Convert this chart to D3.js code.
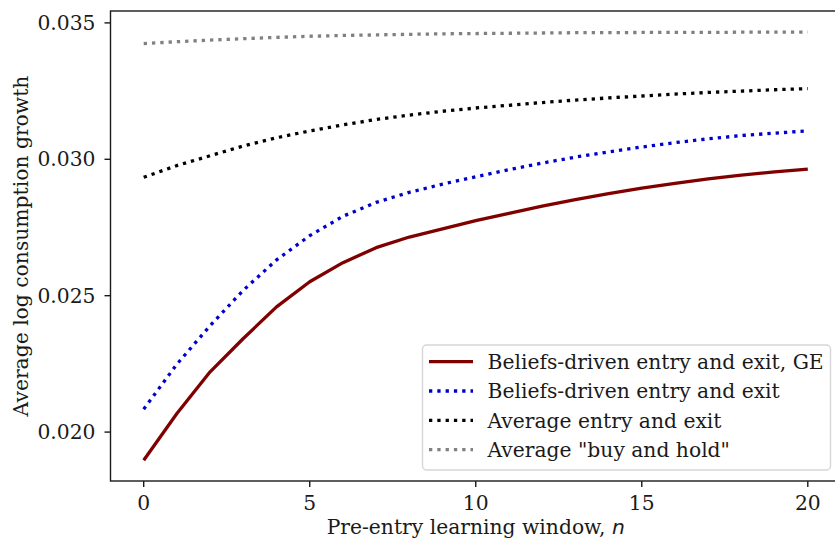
<!DOCTYPE html>
<html>
<head>
<meta charset="utf-8">
<script src="https://cdn.jsdelivr.net/npm/d3@7"></script>
<style>
  body { margin: 0; background: #fff; }
  svg text { font-family: "DejaVu Serif", serif; fill: #1a1a1a; }
</style>
</head>
<body>
<svg id="chart" width="835" height="542"></svg>
<script>
// pre-entry learning window n
const windows = d3.range(0, 21);

const beliefsGE = [0.01897, 0.02068, 0.02221, 0.02343, 0.02459, 0.02551, 0.02621, 0.02676, 0.02715, 0.02745,
  0.02775, 0.02802, 0.02828, 0.02852, 0.02874, 0.02894, 0.02912, 0.02928, 0.02942, 0.02954, 0.02964];
const beliefs = [0.02084, 0.02249, 0.02390, 0.02520, 0.02631, 0.02720, 0.02791, 0.02842, 0.02879, 0.02909,
  0.02936, 0.02962, 0.02986, 0.03008, 0.03027, 0.03045, 0.03061, 0.03075, 0.03087, 0.03096, 0.03104];
const avgEntryExit = [0.02934, 0.02977, 0.03013, 0.03049, 0.03079, 0.03104, 0.03126, 0.03146, 0.03162, 0.03176,
  0.03188, 0.03198, 0.03208, 0.03217, 0.03225, 0.03232, 0.03239, 0.03245, 0.03250, 0.03255, 0.03259];
const buyHold = [0.03424, 0.03431, 0.03437, 0.03442, 0.03447, 0.03451, 0.03454, 0.03456, 0.03458, 0.03460,
  0.03461, 0.03462, 0.03463, 0.03464, 0.03464, 0.03465, 0.03465, 0.03465, 0.03466, 0.03466, 0.03466];

const xTicks = [0, 5, 10, 15, 20];
const yTicks = [0.020, 0.025, 0.030, 0.035];

const series = [
  {label: 'Beliefs-driven entry and exit, GE', values: beliefsGE, color: '#800000', dash: null},
  {label: 'Beliefs-driven entry and exit', values: beliefs, color: '#0000cd', dash: '3.3,5'},
  {label: 'Average entry and exit', values: avgEntryExit, color: '#000000', dash: '3.3,5'},
  {label: 'Average "buy and hold"', values: buyHold, color: '#808080', dash: '3.3,5'}
];

const fontSize = 20.3;
const lineWidth = 3.3;
const svg = d3.select('#chart');
const box = {left: 110.5, right: 841, top: 11, bottom: 481};

const x = d3.scaleLinear().domain([-1, 21]).range([box.left, box.right]);
const y = d3.scaleLinear().domain([0.018207, 0.035436]).range([box.bottom, box.top]);

const plot = svg.append('g');

const line = d3.line()
  .x((d, i) => x(windows[i]))
  .y(d => y(d));

series.forEach(s => {
  plot.append('path')
    .datum(s.values)
    .attr('d', line)
    .attr('fill', 'none')
    .attr('stroke', s.color)
    .attr('stroke-width', lineWidth)
    .attr('stroke-dasharray', s.dash)
    .attr('stroke-linejoin', 'round');
});

// frame
svg.append('rect')
  .attr('x', box.left).attr('y', box.top)
  .attr('width', box.right - box.left).attr('height', box.bottom - box.top)
  .attr('fill', 'none')
  .attr('stroke', '#1a1a1a')
  .attr('stroke-width', 1.4);

// x axis
const xAxis = svg.append('g');
xAxis.selectAll('line')
  .data(xTicks).enter().append('line')
  .attr('x1', d => x(d)).attr('x2', d => x(d))
  .attr('y1', box.bottom).attr('y2', box.bottom + 6)
  .attr('stroke', '#1a1a1a').attr('stroke-width', 1.4);
xAxis.selectAll('text')
  .data(xTicks).enter().append('text')
  .attr('x', d => x(d)).attr('y', box.bottom + 28.5)
  .attr('text-anchor', 'middle')
  .attr('font-size', fontSize)
  .text(d => d);

svg.append('text')
  .attr('x', (box.left + box.right) / 2).attr('y', 534)
  .attr('text-anchor', 'middle')
  .attr('font-size', fontSize)
  .html('Pre-entry learning window, <tspan font-family="DejaVu Sans" font-style="italic">n</tspan>');

// y axis
const fmt = d3.format('.3f');
const yAxis = svg.append('g');
yAxis.selectAll('line')
  .data(yTicks).enter().append('line')
  .attr('x1', box.left - 6).attr('x2', box.left)
  .attr('y1', d => y(d)).attr('y2', d => y(d))
  .attr('stroke', '#1a1a1a').attr('stroke-width', 1.4);
yAxis.selectAll('text')
  .data(yTicks).enter().append('text')
  .attr('x', box.left - 15).attr('y', d => y(d) + 7)
  .attr('text-anchor', 'end')
  .attr('font-size', fontSize)
  .text(d => fmt(d));

svg.append('text')
  .attr('transform', `translate(28, ${(box.top + box.bottom) / 2}) rotate(-90)`)
  .attr('text-anchor', 'middle')
  .attr('font-size', fontSize)
  .text('Average log consumption growth');

// legend
const legend = svg.append('g');
legend.append('rect')
  .attr('x', 422.5).attr('y', 345)
  .attr('width', 408).attr('height', 125)
  .attr('rx', 4)
  .attr('fill', 'rgba(255,255,255,0.8)')
  .attr('stroke', '#d6d6d6')
  .attr('stroke-width', 1.4);

const rows = legend.selectAll('g.row')
  .data(series).enter().append('g')
  .attr('class', 'row')
  .attr('transform', (d, i) => `translate(0, ${361.7 + i * 29.3})`);

rows.append('line')
  .attr('x1', 429).attr('x2', 473)
  .attr('y1', 0).attr('y2', 0)
  .attr('stroke', d => d.color)
  .attr('stroke-width', lineWidth)
  .attr('stroke-dasharray', d => d.dash);

rows.append('text')
  .attr('x', 487.5).attr('y', 7.4)
  .attr('font-size', fontSize)
  .text(d => d.label);
</script>
</body>
</html>
